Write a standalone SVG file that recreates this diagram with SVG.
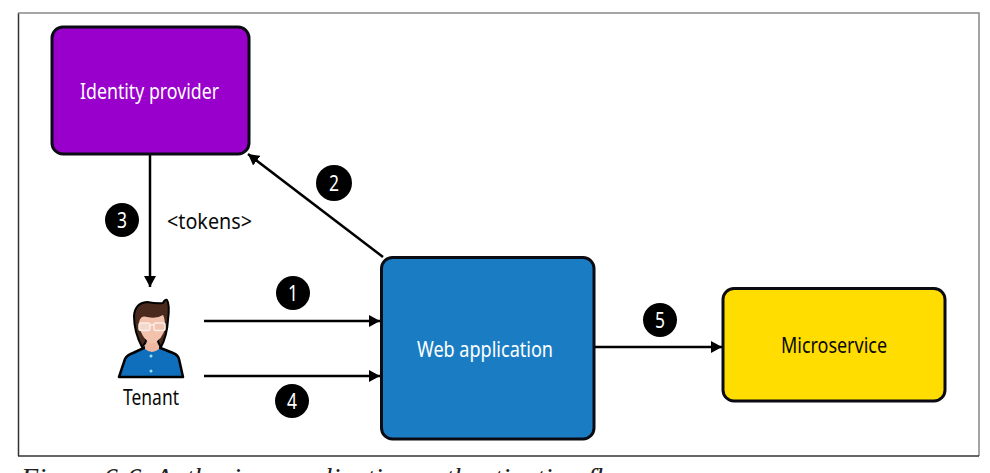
<svg xmlns="http://www.w3.org/2000/svg" width="990" height="473" viewBox="0 0 990 473">
<defs>
<marker id="arrow" markerUnits="userSpaceOnUse" markerWidth="12" markerHeight="12" refX="11" refY="6" orient="auto"><path d="M0,0L11,6L0,12z" fill="#000"/></marker>
</defs>
<style>
.t{font-family:"Noto Sans","Open Sans","Liberation Sans",sans-serif;font-size:21px;fill:#0a0a0a;text-anchor:middle}
.w{fill:#fff}
.n{font-family:"Noto Sans","Liberation Sans",sans-serif;font-size:21px;fill:#fff;text-anchor:middle}
.b{stroke:#0b0b14;stroke-width:3}
.c{stroke:#000;stroke-width:2.500;fill:none;marker-end:url(#arrow)}
</style>
<rect width="990" height="473" fill="#fff"/>
<path d="M18.500,456V13" fill="none" stroke="#333" stroke-width="1.500"/>
<path d="M18,13H979V456" fill="none" stroke="#888" stroke-width="1.500"/>
<path d="M18,456H979" fill="none" stroke="#333" stroke-width="1.500"/>
<g id="connectors">
<path class="c" d="M150,154V287"/>
<path class="c" d="M383,257L248,154"/>
<path class="c" d="M204,321H380"/>
<path class="c" d="M204,376H380"/>
<path class="c" d="M595,347H722"/>
</g>
<g id="identity-provider">
<rect class="b" x="52" y="27" width="197" height="127" rx="11" fill="#9900cc"/>
<text x="149.500" y="99" class="t w" textLength="139" lengthAdjust="spacingAndGlyphs">Identity provider</text>
</g>
<g id="web-application">
<rect class="b" x="381.500" y="257.500" width="212.500" height="181.500" rx="11" fill="#1a7dc4"/>
<text x="485" y="357" class="t w" textLength="136" lengthAdjust="spacingAndGlyphs">Web application</text>
</g>
<g id="microservice">
<rect class="b" x="723" y="288.500" width="222" height="112.500" rx="11" fill="#ffdd00"/>
<text x="834" y="353" class="t" textLength="106" lengthAdjust="spacingAndGlyphs">Microservice</text>
</g>
<g id="tenant">
<path d="M119,377L125,359Q127,355 133,353L146,347H158L173,353Q178,355 179,359L183,377Z" fill="#0f6fbc" stroke="#000" stroke-width="2.500" stroke-linejoin="round"/>
<path d="M145,338V349Q152,355 159,349V338Z" fill="#f0b8a0"/>
<path d="M142,347Q134,332 134,316Q135,303 147,302Q158,304 163,303Q165,299 167,300Q170,304 168,320Q167,336 161,347Q157,342 158,338L146,338Q147,342 142,347Z" fill="#4a2a1c" stroke="#000" stroke-width="2" stroke-linejoin="round"/>
<path d="M139,322Q141,315 147,317Q157,319 163,315Q165,318 165,328Q163,339 152,344Q140,338 139,322Z" fill="#f2c2ad"/>
<rect x="139" y="323" width="11" height="7.500" rx="2" fill="#f5d8cc" stroke="#fbeee8" stroke-width="1.500"/>
<rect x="154" y="323" width="11" height="7.500" rx="2" fill="#f0c4b0" stroke="#fbeee8" stroke-width="1.500"/>
<path d="M150,325H154" stroke="#fbeee8" stroke-width="1.500"/>
<circle cx="151" cy="356" r="1.500" fill="#9fe0ff"/><circle cx="151" cy="371" r="1.500" fill="#9fe0ff"/>
<text x="151" y="405" class="t" textLength="56" lengthAdjust="spacingAndGlyphs">Tenant</text>
</g>
<g id="labels">
<text x="209.500" y="229" class="t" textLength="85" lengthAdjust="spacingAndGlyphs">&lt;tokens&gt;</text>
<circle cx="122" cy="220" r="17"/><text x="122" y="227.500" class="n" textLength="10" lengthAdjust="spacingAndGlyphs">3</text>
<circle cx="334" cy="183" r="18"/><text x="334" y="190.500" class="n" textLength="10" lengthAdjust="spacingAndGlyphs">2</text>
<circle cx="293" cy="293" r="17"/><text x="293" y="300.500" class="n" textLength="10" lengthAdjust="spacingAndGlyphs">1</text>
<circle cx="292" cy="401" r="17"/><text x="292" y="408.500" class="n" textLength="10" lengthAdjust="spacingAndGlyphs">4</text>
<circle cx="660" cy="320" r="17"/><text x="660" y="327.500" class="n" textLength="10" lengthAdjust="spacingAndGlyphs">5</text>
</g>
<text x="21" y="487" style="font-family:'Liberation Serif',serif;font-style:italic;font-size:28px" fill="#222" textLength="615" lengthAdjust="spacingAndGlyphs">Figure 6-6. Authorizer application authentication flow</text>
</svg>
